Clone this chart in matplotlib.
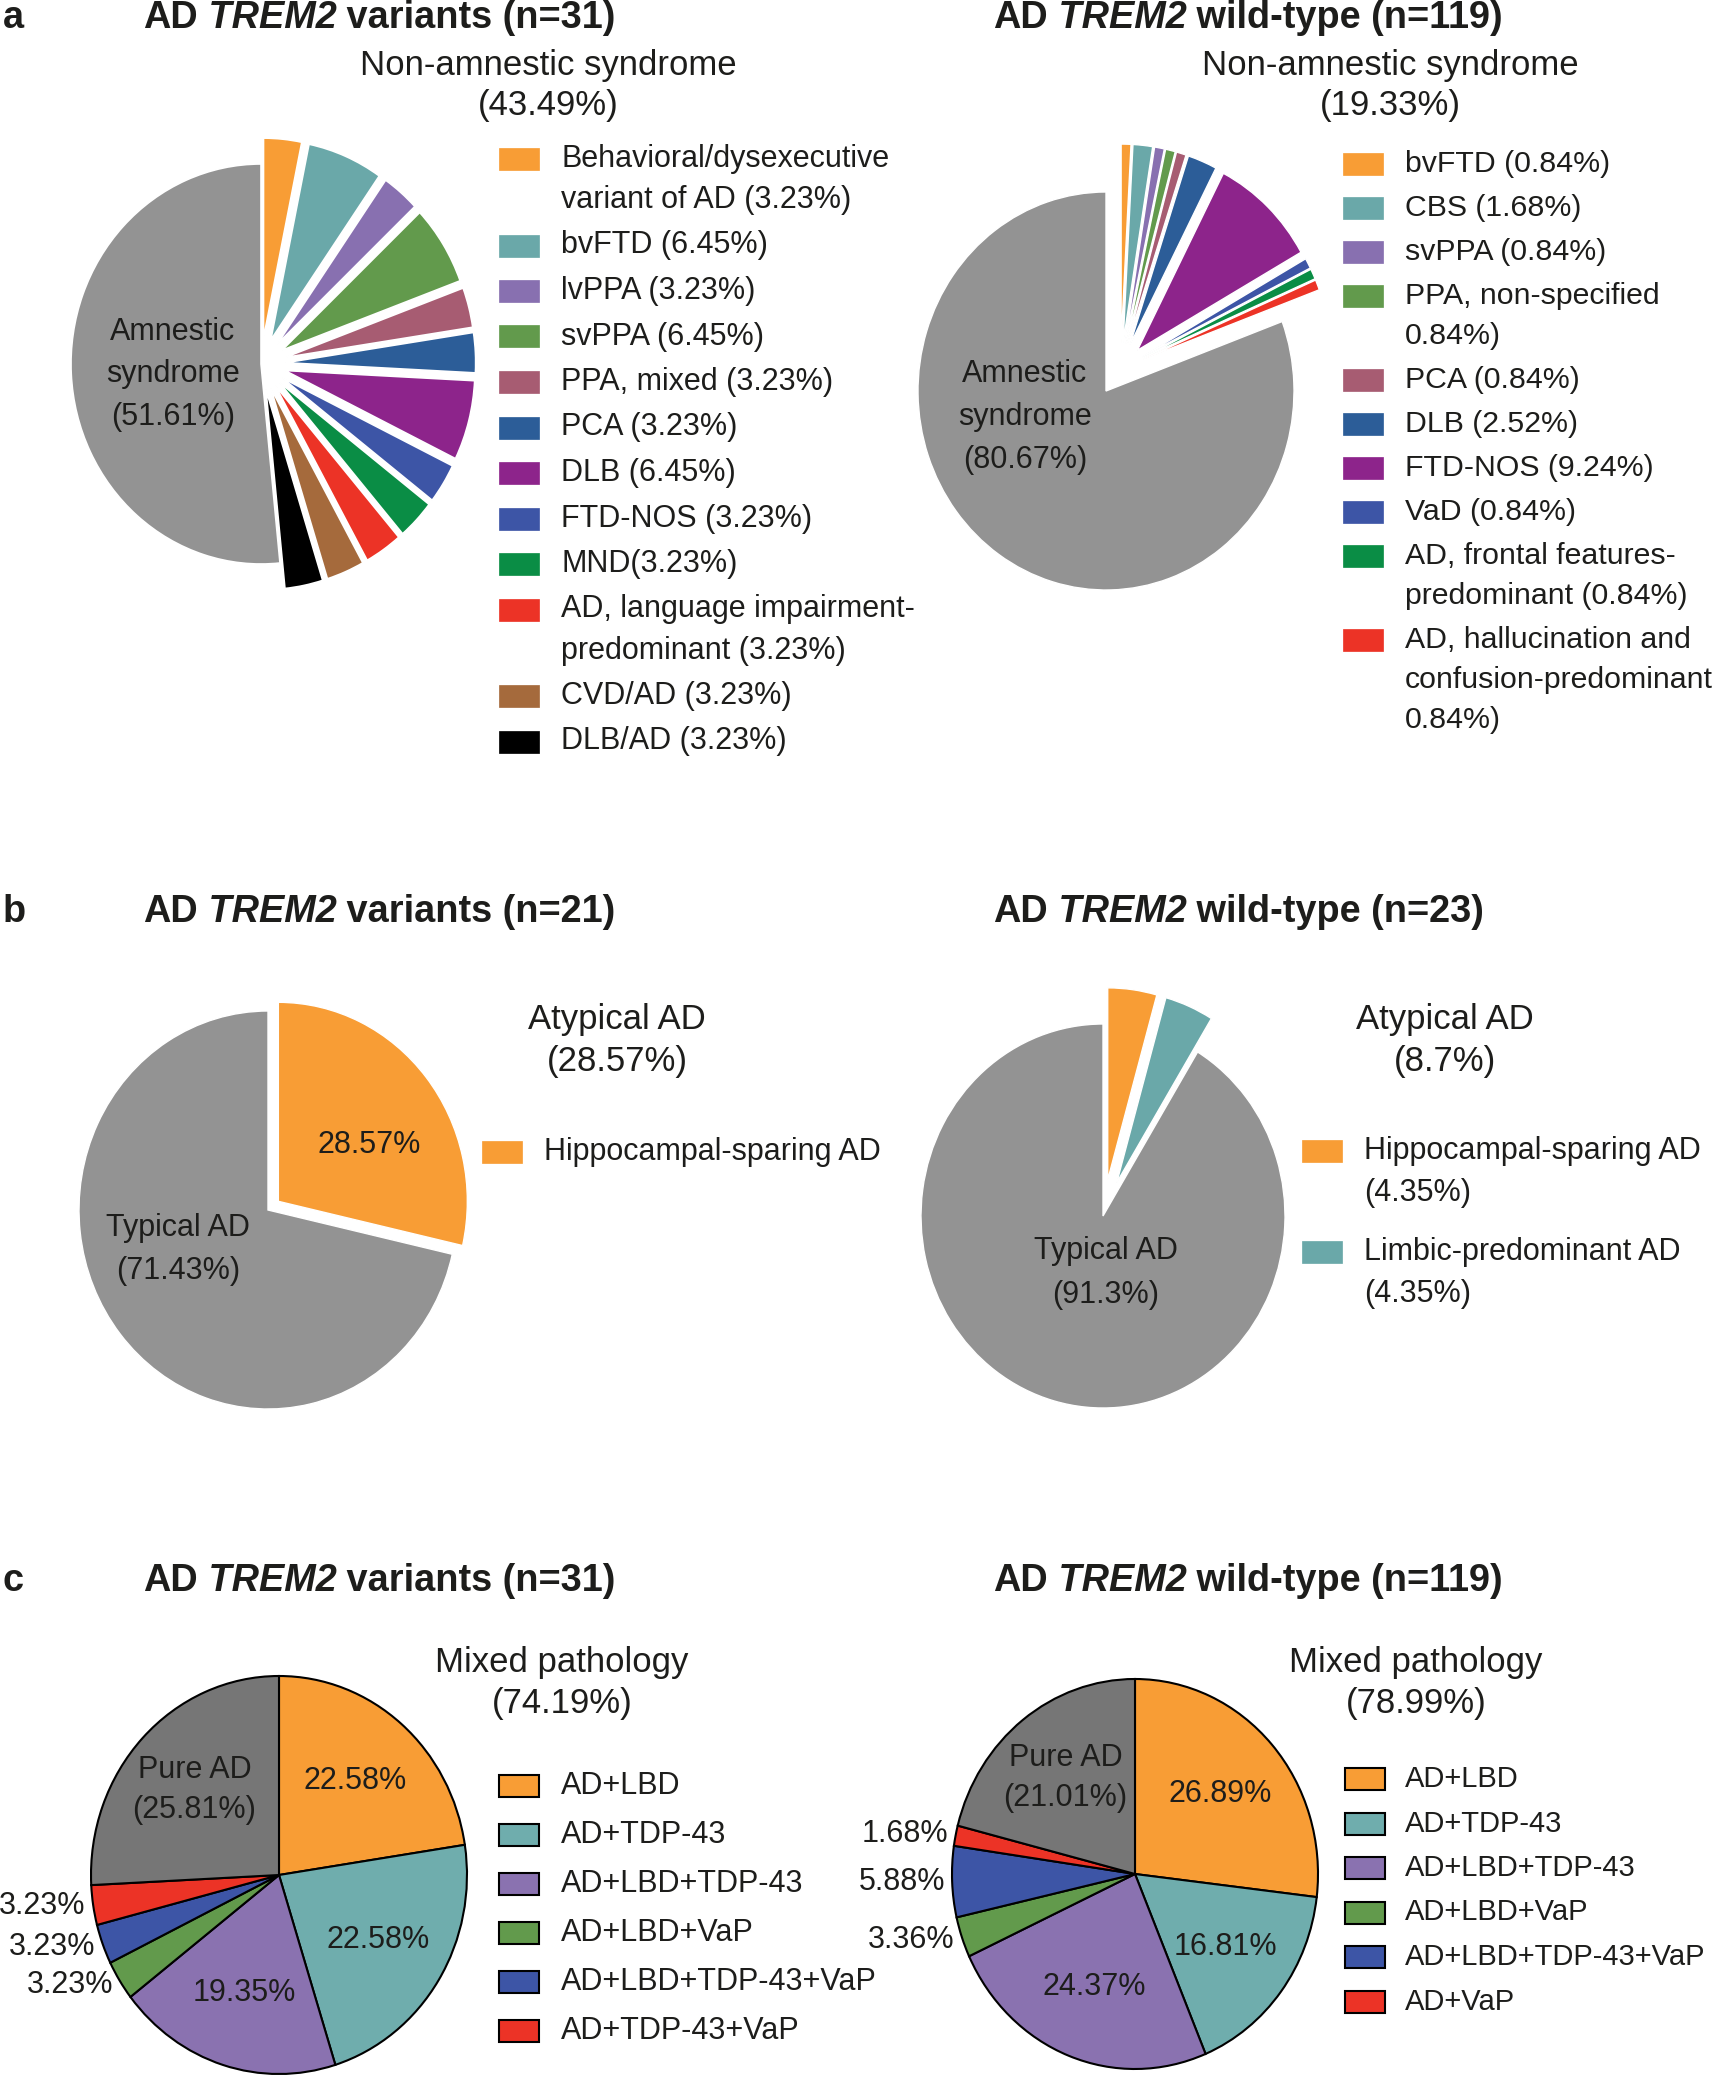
import numpy as np
import matplotlib
matplotlib.use("Agg")
import matplotlib.pyplot as plt
from matplotlib.patches import Rectangle

plt.rcParams["font.family"] = ["Liberation Sans", "DejaVu Sans"]

# =========================================================
# Data (percent of patients)
# =========================================================
# a: clinical syndrome
a_var_syndromes = ["Behavioral/dysexecutive\nvariant of AD (3.23%)", "bvFTD (6.45%)", "lvPPA (3.23%)",
                   "svPPA (6.45%)", "PPA, mixed (3.23%)", "PCA (3.23%)", "DLB (6.45%)",
                   "FTD-NOS (3.23%)", "MND(3.23%)", "AD, language impairment-\npredominant (3.23%)",
                   "CVD/AD (3.23%)", "DLB/AD (3.23%)"]
a_var_pct = [3.23, 6.45, 3.23, 6.45, 3.23, 3.23, 6.45, 3.23, 3.23, 3.23, 3.23, 3.23]
a_var_amnestic = 51.61
a_var_header = "Non-amnestic syndrome\n(43.49%)"

a_wt_syndromes = ["bvFTD (0.84%)", "CBS (1.68%)", "svPPA (0.84%)", "PPA, non-specified\n0.84%)",
                  "PCA (0.84%)", "DLB (2.52%)", "FTD-NOS (9.24%)", "VaD (0.84%)",
                  "AD, frontal features-\npredominant (0.84%)",
                  "AD, hallucination and\nconfusion-predominant\n0.84%)"]
a_wt_pct = [0.84, 1.68, 0.84, 0.84, 0.84, 2.52, 9.24, 0.84, 0.84, 0.84]
a_wt_amnestic = 80.67
a_wt_header = "Non-amnestic syndrome\n(19.33%)"

# b: AD subtype
b_var_subtypes = ["Hippocampal-sparing AD"]
b_var_pct = [28.57]
b_var_typical = 71.43
b_var_header = "Atypical AD\n(28.57%)"

b_wt_subtypes = ["Hippocampal-sparing AD\n(4.35%)", "Limbic-predominant AD\n(4.35%)"]
b_wt_pct = [4.35, 4.35]
b_wt_typical = 91.3
b_wt_header = "Atypical AD\n(8.7%)"

# c: neuropathology
c_var_patho = ["AD+LBD", "AD+TDP-43", "AD+LBD+TDP-43", "AD+LBD+VaP", "AD+LBD+TDP-43+VaP", "AD+TDP-43+VaP"]
c_var_pct = [22.58, 22.58, 19.35, 3.23, 3.23, 3.23]
c_var_pure = 25.81
c_var_header = "Mixed pathology\n(74.19%)"

c_wt_patho = ["AD+LBD", "AD+TDP-43", "AD+LBD+TDP-43", "AD+LBD+VaP", "AD+LBD+TDP-43+VaP", "AD+VaP"]
c_wt_pct = [26.89, 16.81, 24.37, 3.36, 5.88, 1.68]
c_wt_pure = 21.01
c_wt_header = "Mixed pathology\n(78.99%)"

# =========================================================
# Style
# =========================================================
ORANGE, TEAL, LAV, GREEN = "#F89D35", "#6AA8A9", "#8870B0", "#629A4C"
ROSE, NAVY, PURPLE, BLUE = "#A75C72", "#2C5D98", "#8D248B", "#3D55A6"
DKGREEN, RED, BROWN, BLACK = "#0A8D45", "#EC3326", "#A56A3C", "#000000"
GRAY, DKGRAY = "#939393", "#767676"
INK = "#1d1d1b"

a_var_colors = [ORANGE, TEAL, LAV, GREEN, ROSE, NAVY, PURPLE, BLUE, DKGREEN, RED, BROWN, BLACK]
a_wt_colors = [ORANGE, TEAL, LAV, GREEN, ROSE, NAVY, PURPLE, BLUE, DKGREEN, RED]
c_colors = [ORANGE, "#6FADAD", "#8A72B0", GREEN, BLUE, RED]

FS = 22          # legend / slice labels
HEAD_FS = 25     # group headers above legends
TITLE_FS = 27.3
W, H = 1720, 2076

fig = plt.figure(figsize=(W / 100, H / 100), dpi=100)


def fx(x):
    return x / W


def fy(y):
    return 1 - y / H


def put_lines(x, y, text, step, ha="center", size=FS):
    lines = text.split("\n")
    y0 = y - (len(lines) - 1) * step / 2
    for j, line in enumerate(lines):
        fig.text(fx(x), fy(y0 + j * step), line, ha=ha, va="center", fontsize=size, color=INK)


def rich_title(x, y, parts):
    renderer = fig.canvas.get_renderer()
    for s, style in parts:
        t = fig.text(fx(x), fy(y), s, fontsize=TITLE_FS, fontweight="bold", fontstyle=style,
                     ha="left", va="center", color=INK)
        x = t.get_window_extent(renderer).x1


def panel_title(x, y, group, n):
    rich_title(x, y, [("AD", "normal"), (" TREM2", "italic"), (f" {group} (n={n})", "normal")])


def legend(xp, y0, labels, colors, line_h, gap, edge=None, size=FS, pad=62):
    y = y0
    for lab, col in zip(labels, colors):
        fig.add_artist(Rectangle((fx(xp), fy(y + 11)), 40 / W, 22 / H, transform=fig.transFigure,
                                 facecolor=col, edgecolor=edge or col,
                                 linewidth=1.5 if edge else 0.5))
        lines = lab.split("\n")
        for j, line in enumerate(lines):
            fig.text(fx(xp + pad), fy(y + j * line_h), line, ha="left", va="center",
                     fontsize=size, color=INK)
        y += len(lines) * line_h + gap


def draw_pie(cx, cy, rx, ry, values, colors, explode, edge, lw):
    k = 1.6
    ax = fig.add_axes([fx(cx - k * rx), fy(cy + k * ry), 2 * k * rx / W, 2 * k * ry / H])
    wedges, _ = ax.pie(values, colors=colors, explode=explode, startangle=90, counterclock=False,
                       wedgeprops=dict(edgecolor=edge, linewidth=lw))
    ax.set_aspect("auto")
    ax.set_xlim(-k, k)
    ax.set_ylim(-k, k)
    return wedges


def wedge_xy(w, r, cx, cy, rx, ry):
    mid = np.deg2rad((w.theta1 + w.theta2) / 2)
    return cx + r * np.cos(mid) * rx, cy - r * np.sin(mid) * ry


# =========================================================
# a  clinical syndrome
# =========================================================
fig.text(fx(3), fy(18), "a", fontsize=TITLE_FS, fontweight="bold", va="center", color=INK)
panel_title(143, 18, "variants", 31)
panel_title(993, 18, "wild-type", 119)

cx, cy, rx, ry = 261, 364, 190, 200
draw_pie(cx, cy, rx, ry, a_var_pct + [a_var_amnestic], a_var_colors + [GRAY],
         [0.13] * len(a_var_pct) + [0], "white", 1.2)
put_lines(cx - 0.463 * rx, cy + 0.05 * ry, f"Amnestic\nsyndrome\n({a_var_amnestic:g}%)", 42.5)
put_lines(548, 85.5, a_var_header, 41, size=HEAD_FS)
legend(499, 159, a_var_syndromes, a_var_colors, 41, 4.5)

cx, cy, rx, ry = 1106, 391, 188, 199
wedges = draw_pie(cx, cy, rx, ry, a_wt_pct + [a_wt_amnestic], a_wt_colors + [GRAY],
                  [0.13] * len(a_wt_pct) + [0], "white", 1.0)
# the non-amnestic group is also pulled out as a block
group_mid = np.deg2rad(90 - 180 * sum(a_wt_pct) / (sum(a_wt_pct) + a_wt_amnestic))
dx, dy = 0.135 * np.cos(group_mid), 0.135 * np.sin(group_mid)
for w in wedges[:-1]:
    w.set_center((w.center[0] + dx, w.center[1] + dy))
put_lines(cx - 0.431 * rx, cy + 0.131 * ry, f"Amnestic\nsyndrome\n({a_wt_amnestic:g}%)", 43)
put_lines(1390, 85.5, a_wt_header, 41, size=HEAD_FS)
legend(1343, 164, a_wt_syndromes, a_wt_colors, 40, 4, size=21.8)

# =========================================================
# b  AD subtype
# =========================================================
fig.text(fx(3), fy(912), "b", fontsize=TITLE_FS, fontweight="bold", va="center", color=INK)
panel_title(143, 912, "variants", 21)
panel_title(993, 912, "wild-type", 23)

cx, cy, rx, ry = 268, 1210, 189, 199
draw_pie(cx, cy, rx, ry, b_var_pct + [b_var_typical], [ORANGE, GRAY],
         [0.07] * len(b_var_pct) + [0], "white", 1.0)
put_lines(cx - 0.476 * rx, cy + 0.198 * ry, f"Typical AD\n({b_var_typical:g}%)", 43.5)
put_lines(cx + 0.534 * rx, cy - 0.327 * ry, f"{b_var_pct[0]:g}%", 43.5)
put_lines(617, 1040.5, b_var_header, 41, size=HEAD_FS)
legend(482, 1152, b_var_subtypes, [ORANGE], 42, 17)

cx, cy, rx, ry = 1103, 1216, 182, 192
draw_pie(cx, cy, rx, ry, b_wt_pct + [b_wt_typical], [ORANGE, TEAL, GRAY],
         [0.19] * len(b_wt_pct) + [0], "white", 1.0)
put_lines(cx + 0.016 * rx, cy + 0.297 * ry, f"Typical AD\n({b_wt_typical:g}%)", 44)
put_lines(1445, 1040.5, b_wt_header, 41, size=HEAD_FS)
legend(1302, 1151, b_wt_subtypes, [ORANGE, TEAL], 42, 17)

# =========================================================
# c  neuropathology
# =========================================================
fig.text(fx(3), fy(1581), "c", fontsize=TITLE_FS, fontweight="bold", va="center", color=INK)
panel_title(143, 1581, "variants", 31)
panel_title(993, 1581, "wild-type", 119)


def patho_pie(cx, cy, rx, ry, pct, pure):
    wedges = draw_pie(cx, cy, rx, ry, pct + [pure], c_colors + [DKGRAY], None, "black", 1.5)
    for w, v in zip(wedges[:-1], pct):
        if v > 10:
            x, y = wedge_xy(w, 0.62, cx, cy, rx, ry)
            put_lines(x, y, f"{v:.2f}%", 40)
        else:
            x, y = wedge_xy(w, 1.04, cx, cy, rx, ry)
            put_lines(x, y, f"{v:.2f}%", 40, ha="right")
    x, y = wedge_xy(wedges[-1], 0.62, cx, cy, rx, ry)
    put_lines(x, y, f"Pure AD\n({pure:.2f}%)", 40)


patho_pie(279, 1875, 188, 199, c_var_pct, c_var_pure)
put_lines(562, 1683, c_var_header, 41, size=HEAD_FS)
legend(499, 1786, c_var_patho, c_colors, 40, 9, edge="black")

patho_pie(1135, 1874, 183, 195, c_wt_pct, c_wt_pure)
put_lines(1416, 1683, c_wt_header, 41, size=HEAD_FS)
legend(1345, 1779, c_wt_patho, c_colors, 40, 4.5, edge="black", size=21, pad=60)

fig.savefig("out.png", dpi=100, facecolor="white")
